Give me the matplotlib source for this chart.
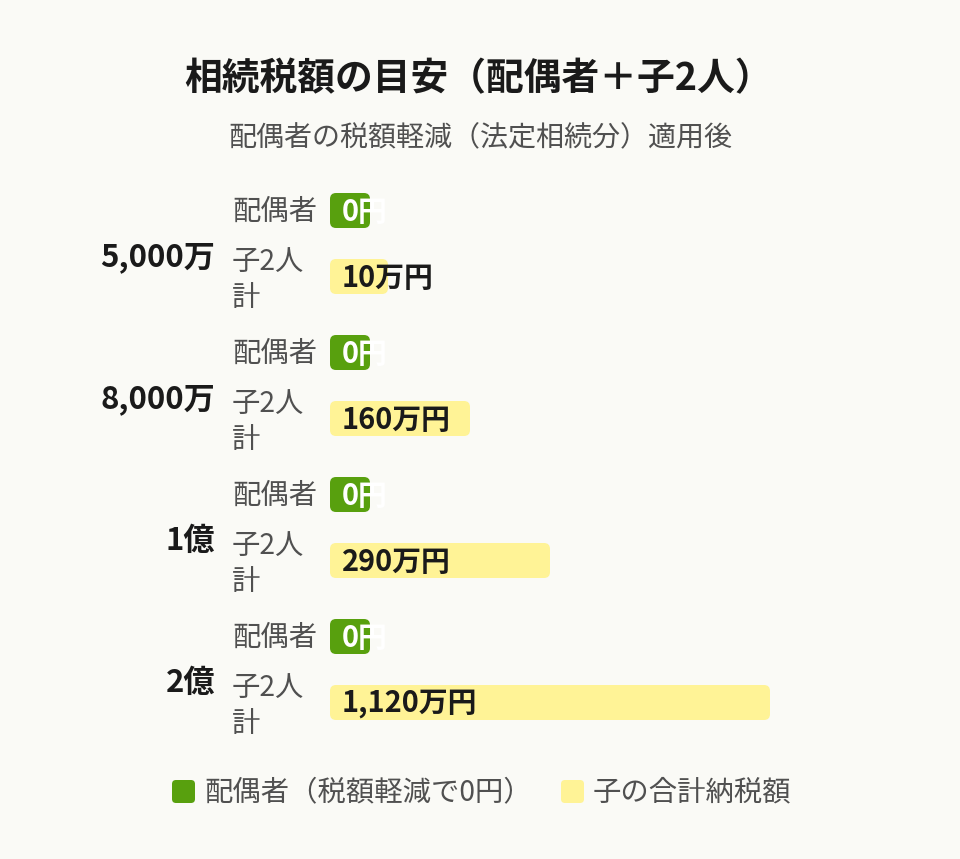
import numpy as np
import matplotlib.pyplot as plt
from matplotlib.patches import FancyBboxPatch

plt.rcParams['font.family'] = ['Noto Sans CJK JP', 'DejaVu Sans']

# data
groups = ["5,000万", "8,000万", "1億", "2億"]
spouse_tax = [0, 0, 0, 0]           # 万円
children_tax = [10, 160, 290, 1120]  # 万円
spouse_labels = ["0円", "0円", "0円", "0円"]
children_labels = ["10万円", "160万円", "290万円", "1,120万円"]

title = "相続税額の目安（配偶者＋子2人）"
subtitle = "配偶者の税額軽減（法定相続分）適用後"
legend_labels = ["配偶者（税額軽減で0円）", "子の合計納税額"]

BG = "#fafaf6"
GREEN = "#58a00e"
YELLOW = "#fff396"
DARK = "#1a1a1a"
GRAY = "#505050"


# the original bars are not proportional; non-linear display scale (px)
def bar_len(v):
    return np.interp(v, [0, 10, 160, 290, 1120], [40, 58, 140, 220, 440])


fig = plt.figure(figsize=(9.6, 8.59), dpi=100, facecolor=BG)
ax = fig.add_axes([0, 0, 1, 1])
ax.set_xlim(0, 960)
ax.set_ylim(859, 0)
ax.axis('off')
ax.set_facecolor(BG)

ax.text(478, 79, title, ha='center', va='center', fontsize=27.2, fontweight='bold', color=DARK)
ax.text(480, 137, subtitle, ha='center', va='center', fontsize=20.2, color=GRAY)

x0 = 330
bar_h = 35
for i, g in enumerate(groups):
    top = 193 + 142 * i
    # spouse bar
    w = bar_len(spouse_tax[i])
    ax.add_patch(FancyBboxPatch((x0, top), w, bar_h, boxstyle="round,pad=0,rounding_size=6",
                                fc=GREEN, ec='none'))
    ax.text(x0 + 12, top + bar_h / 2 + 1, spouse_labels[i], ha='left', va='center',
            fontsize=20.8, fontweight='bold', color='white')
    # children bar
    w = bar_len(children_tax[i])
    ty = top + 66
    ax.add_patch(FancyBboxPatch((x0, ty), w, bar_h, boxstyle="round,pad=0,rounding_size=6",
                                fc=YELLOW, ec='none'))
    ax.text(x0 + 12, ty + bar_h / 2 + 1, children_labels[i], ha='left', va='center',
            fontsize=20.8, fontweight='bold', color=DARK)
    # labels
    ax.text(215, top + 64, g, ha='right', va='center', fontsize=22.4, fontweight='bold', color=DARK)
    ax.text(232, top + 19, "配偶者", ha='left', va='center', fontsize=20.4, color=GRAY)
    ax.text(232, top + 69, "子2人", ha='left', va='center', fontsize=20.4, color=GRAY)
    ax.text(232, top + 105, "計", ha='left', va='center', fontsize=20.4, color=GRAY)

# legend
for (sx, col, lab) in [(172, GREEN, legend_labels[0]), (561, YELLOW, legend_labels[1])]:
    ax.add_patch(FancyBboxPatch((sx, 780), 23, 23, boxstyle="round,pad=0,rounding_size=4",
                                fc=col, ec='none'))
    ax.text(sx + 32, 792, lab, ha='left', va='center', fontsize=20.4, color=GRAY)

fig.savefig("out.png", dpi=100, facecolor=BG)
